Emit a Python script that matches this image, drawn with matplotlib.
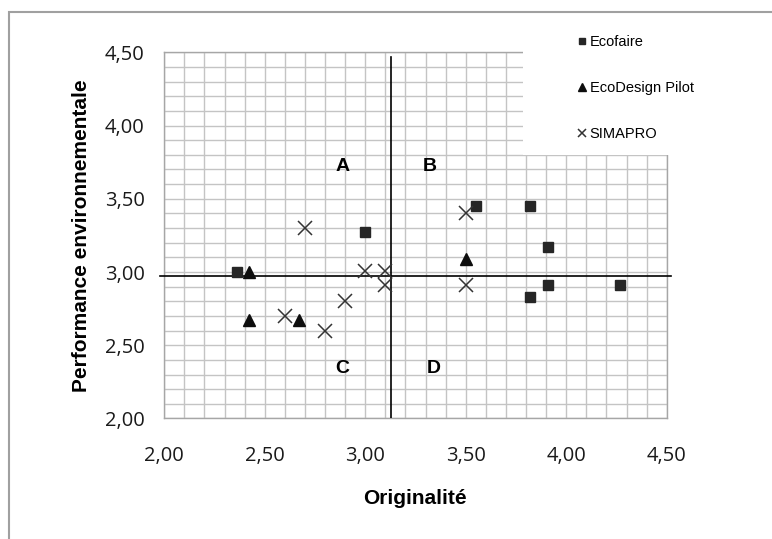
import matplotlib
matplotlib.use("Agg")
import matplotlib.pyplot as plt
from matplotlib.patches import Rectangle

# Data
ecofaire_x = [2.36, 3.00, 3.55, 3.82, 3.91, 3.91, 3.82, 4.27]
ecofaire_y = [3.00, 3.27, 3.45, 3.45, 3.17, 2.91, 2.83, 2.91]

pilot_x = [2.42, 2.42, 2.67, 3.50]
pilot_y = [3.00, 2.67, 2.67, 3.09]

simapro_x = [2.70, 3.00, 3.10, 3.10, 2.90, 2.60, 2.80, 3.50, 3.50]
simapro_y = [3.30, 3.01, 3.01, 2.91, 2.80, 2.70, 2.60, 3.40, 2.91]

quad_x = 3.13
quad_y = 2.97

ticks = [2.0, 2.5, 3.0, 3.5, 4.0, 4.5]
tick_labels = ["2,00", "2,50", "3,00", "3,50", "4,00", "4,50"]

quadrants = ["A", "B", "C", "D"]
quad_pos = [(2.885, 3.72), (3.32, 3.72), (2.885, 2.34), (3.34, 2.34)]

fig = plt.figure(figsize=(7.72, 5.39), dpi=100)
ax = fig.add_axes([0.2128, 0.2236, 0.6508, 0.6794])

# outer chart border (runs off the image on the right and bottom)
fig.patches.append(Rectangle((9 / 772, -0.1), 1.2, 1 - 12 / 539 + 0.1,
                             transform=fig.transFigure, fill=False,
                             edgecolor="#a0a0a0", linewidth=1.5))

ax.set_xlim(2.0, 4.5)
ax.set_ylim(2.0, 4.5)
ax.set_xticks(ticks)
ax.set_xticklabels(tick_labels)
ax.set_yticks(ticks)
ax.set_yticklabels(tick_labels)
ax.set_xticks([2.0 + 0.1 * i for i in range(26)], minor=True)
ax.set_yticks([2.0 + 0.1 * i for i in range(26)], minor=True)
ax.set_axisbelow(True)
ax.grid(which="both", color="#c4c4c4", linewidth=1.0)
ax.tick_params(which="both", length=0)
ax.tick_params(axis="x", pad=20)
ax.tick_params(axis="y", pad=14)
for lab in ax.get_xticklabels() + ax.get_yticklabels():
    lab.set_family("Open Sans")
    lab.set_fontsize(14.5)
    lab.set_color("#1a1a1a")
for s in ax.spines.values():
    s.set_color("#a6a6a6")
    s.set_linewidth(1.0)

# quadrant lines
ax.plot([quad_x, quad_x], [2.0, 4.47], color="black", linewidth=1.2, zorder=3)
ax.plot([1.98, 4.52], [quad_y, quad_y], color="black", linewidth=1.2,
        zorder=3, clip_on=False)

ax.plot(ecofaire_x, ecofaire_y, linestyle="none", marker="s", markersize=7,
        color="#262626", label="Ecofaire", zorder=4)
ax.plot(pilot_x, pilot_y, linestyle="none", marker="^", markersize=9,
        color="#0d0d0d", label="EcoDesign Pilot", zorder=4)
ax.plot(simapro_x, simapro_y, linestyle="none", marker="x", markersize=10,
        markeredgewidth=1.1, color="#333333", label="SIMAPRO", zorder=4)

for txt, (px, py) in zip(quadrants, quad_pos):
    ax.text(px, py, txt, ha="center", va="center", fontsize=14,
            fontweight="bold", family="Liberation Sans", zorder=4)

# white legend area hiding the grid corner
ax.add_patch(Rectangle((3.786, 3.80), 1.0, 1.0, facecolor="white",
                       edgecolor="none", zorder=2.6, clip_on=False))

leg = fig.legend(loc="upper left", bbox_to_anchor=(565 / 772, 1 - 22 / 539),
                 frameon=False, markerscale=0.6, handlelength=0.5,
                 handletextpad=0.3, labelspacing=2.2,
                 prop={"family": "Liberation Sans", "size": 10.5})

ax.set_xlabel("Originalité", fontsize=15, fontweight="bold",
              family="Liberation Sans")
ax.set_ylabel("Performance environnementale", fontsize=15, fontweight="bold",
              family="Liberation Sans")
ax.xaxis.set_label_coords(0.499, -0.193)
ax.yaxis.set_label_coords(-0.145, 0.50)

plt.savefig("out.png", dpi=100)
plt.close()
